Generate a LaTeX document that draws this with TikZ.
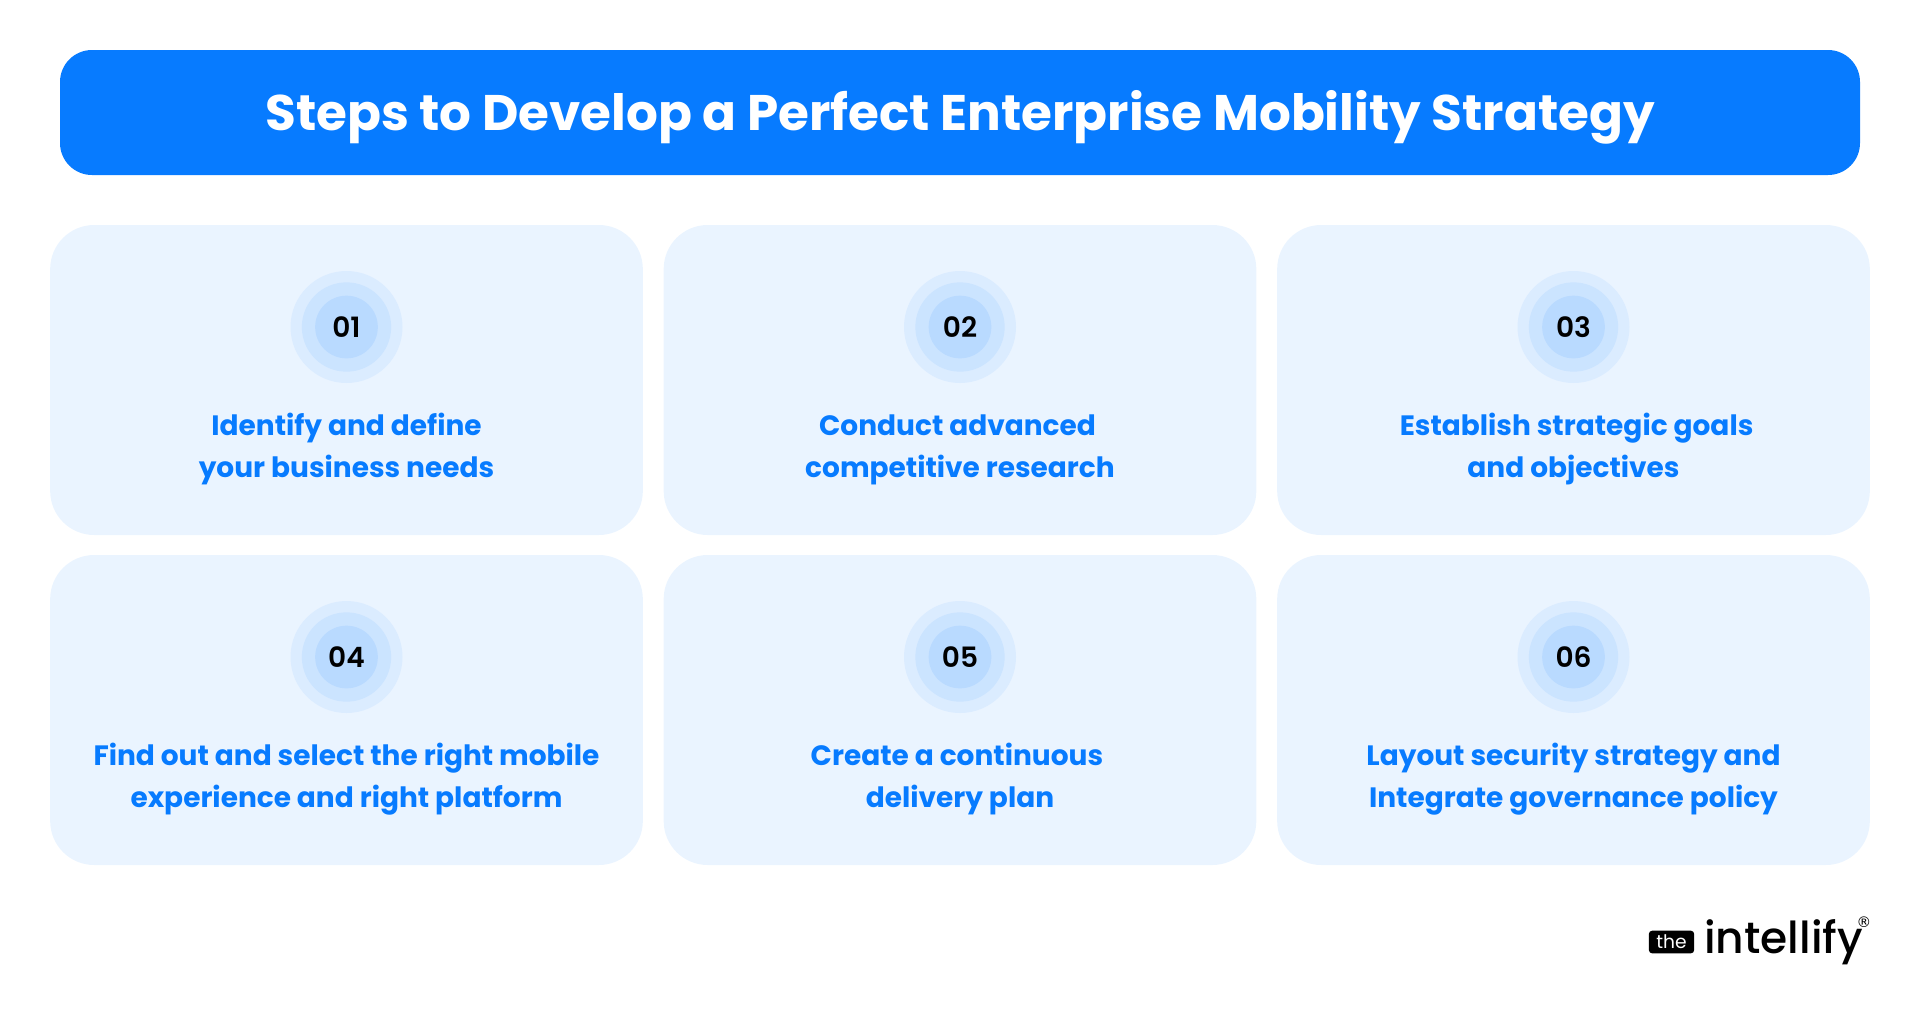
\documentclass[tikz,border=0pt]{standalone}
\usepackage{fontspec}
\setmainfont{Poppins}
\newfontfamily\semifont{Poppins SemiBold}
\newfontfamily\medfont{Poppins Medium}
\newfontfamily\regfont{DejaVu Sans}
\definecolor{bannerblue}{HTML}{077BFF}
\definecolor{cardblue}{HTML}{EAF4FF}
\definecolor{ringa}{HTML}{DBECFF}
\definecolor{ringb}{HTML}{CBE4FF}
\definecolor{ringc}{HTML}{B9DAFF}
\tikzset{
	card/.style={fill=cardblue, rounded corners=33pt, minimum width=444.5pt, minimum height=232.5pt, inner sep=0pt},
	ringout/.style={circle, fill=ringa, minimum size=84pt, inner sep=0pt},
	ringmid/.style={circle, fill=ringb, minimum size=67pt, inner sep=0pt},
	ringin/.style={circle, fill=ringc, minimum size=47pt, inner sep=0pt, font=\fontsize{21}{25}\selectfont\semifont},
	steptext/.style={text=bannerblue, align=center, inner sep=0pt, text height=16pt, text depth=36pt, font=\fontsize{21}{31.5}\selectfont\bfseries}
}
\begin{document}
\begin{tikzpicture}[x=0.75pt, y=-0.75pt]
		\useasboundingbox (0,0) rectangle (1920,1015);
		\node[fill=bannerblue, rounded corners=24pt, minimum width=1350pt, minimum height=93.75pt] (banner) at (960,112.5) {};
		\node[text=white, font=\fontsize{37.5}{45}\selectfont\bfseries] (title) at (960,117) {Steps to Develop a Perfect Enterprise Mobility Strategy};

		\node[card] (carda) at (346.5,380) {};
		\node[card] (cardb) at (960,380) {};
		\node[card] (cardc) at (1573.5,380) {};
		\node[card] (cardd) at (346.5,710) {};
		\node[card] (carde) at (960,710) {};
		\node[card] (cardf) at (1573.5,710) {};

		\node[ringout] (oa) at (346.5,327) {};
		\node[ringmid] (ma) at (346.5,327) {};
		\node[ringin] (na) at (346.5,327) {01};
		\node[ringout] (ob) at (960,327) {};
		\node[ringmid] (mb) at (960,327) {};
		\node[ringin] (nb) at (960,327) {02};
		\node[ringout] (oc) at (1573.5,327) {};
		\node[ringmid] (mc) at (1573.5,327) {};
		\node[ringin] (nc) at (1573.5,327) {03};
		\node[ringout] (od) at (346.5,657) {};
		\node[ringmid] (md) at (346.5,657) {};
		\node[ringin] (nd) at (346.5,657) {04};
		\node[ringout] (oe) at (960,657) {};
		\node[ringmid] (me) at (960,657) {};
		\node[ringin] (ne) at (960,657) {05};
		\node[ringout] (of) at (1573.5,657) {};
		\node[ringmid] (mf) at (1573.5,657) {};
		\node[ringin] (nf) at (1573.5,657) {06};

		\node[steptext] (ta) at (346.5,491) {Identify and define\\your business needs};
		\node[steptext] (tb) at (960,491) {Conduct advanced\hspace*{3.7pt}\\competitive research};
		\node[steptext] (tc) at (1573.5,491) {\hspace*{4.6pt}Establish strategic goals\\and objectives};
		\node[steptext] (td) at (346.5,821) {Find out and select the right mobile\\experience and right platform};
		\node[steptext] (te) at (960,821) {Create a continuous\hspace*{4.6pt}\\delivery plan};
		\node[steptext] (tf) at (1573.5,821) {Layout security strategy and\\Integrate governance policy};

		\node[fill=black, text=white, rounded corners=2.5pt, minimum width=34pt, minimum height=17pt, inner sep=0pt, font=\fontsize{14}{16}\selectfont] (the) at (1671.5,942) {the};
		\node[anchor=base west, inner sep=0pt, font=\fontsize{33}{40}\selectfont\medfont] (logo) at (1704,953) {intellify};
		\node[inner sep=0pt, font=\fontsize{11}{12}\selectfont\regfont] (reg) at (1864,922) {®};
	\end{tikzpicture}
\end{document}
